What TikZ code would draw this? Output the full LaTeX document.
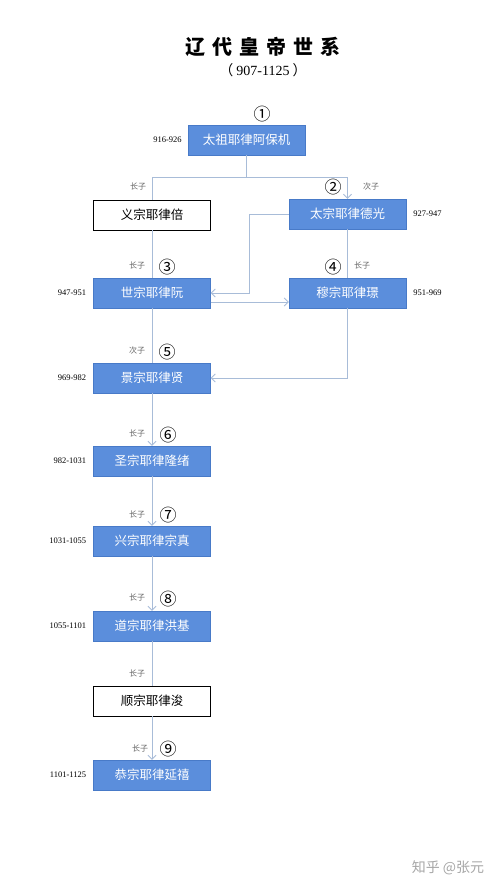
\documentclass[tikz,border=0pt]{standalone}
\usepackage{fontspec}
\setmainfont{Liberation Serif}
\newfontfamily\cjk{Noto Sans CJK SC}
\usetikzlibrary{arrows.meta,positioning}
\definecolor{kingblue}{RGB}{91,142,220}
\definecolor{kingedge}{RGB}{72,122,200}
\definecolor{linkgray}{RGB}{168,188,216}

\begin{document}
\begin{tikzpicture}[
  x=1pt, y=-1pt,
  ruler/.style={draw=kingedge, fill=kingblue, text=white, minimum width=117pt, minimum height=30pt,
    inner sep=0pt, font=\cjk\fontsize{12.5}{14}\selectfont},
  heir/.style={ruler, draw=black, fill=white, text=black, line width=0.9pt},
  reign/.style={inner sep=0pt, font=\fontsize{8.5}{10}\selectfont},
  son/.style={inner sep=0pt, text=black!60, font=\cjk\fontsize{8}{9}\selectfont},
  order/.style={inner sep=0pt, font=\cjk\fontsize{17}{18}\selectfont},
  link/.style={draw=linkgray, line width=0.8pt},
  linkto/.style={link, -{Straight Barb[length=4pt,width=8pt]}}
]
\useasboundingbox (0,0) rectangle (500,889);

% title
\node[inner sep=0pt, font=\cjk\bfseries\fontsize{20}{22}\selectfont] (title) at (263,47)
  {辽\hspace{7pt}代\hspace{7pt}皇\hspace{7pt}帝\hspace{7pt}世\hspace{7pt}系};
\node[inner sep=0pt, font=\fontsize{14}{16}\selectfont] (years) at (263,70)
  {{\cjk （}\hspace{3pt}907-1125\hspace{3pt}{\cjk ）}};

% emperors
\node[ruler] (taizu) at (246.5,140) {太祖耶律阿保机};
\node[heir] (yizong) at (152,215) {义宗耶律倍};
\node[ruler] (taizong) at (347.5,214) {太宗耶律德光};
\node[ruler] (shizong) at (152,293) {世宗耶律阮};
\node[ruler] (muzong) at (347.5,293) {穆宗耶律璟};
\node[ruler] (jingzong) at (152,378) {景宗耶律贤};
\node[ruler] (shengzong) at (152,461) {圣宗耶律隆绪};
\node[ruler] (xingzong) at (152,541) {兴宗耶律宗真};
\node[ruler] (daozong) at (152,626) {道宗耶律洪基};
\node[heir] (shunzong) at (152,701) {顺宗耶律浚};
\node[ruler] (gongzong) at (152,775) {恭宗耶律延禧};

% reigns
\node[reign, left=6pt of taizu] {916-926};
\node[reign, right=7pt of taizong] {927-947};
\node[reign, left=7pt of shizong] {947-951};
\node[reign, right=7pt of muzong] {951-969};
\node[reign, left=7pt of jingzong] {969-982};
\node[reign, left=7pt of shengzong] {982-1031};
\node[reign, left=7pt of xingzong] {1031-1055};
\node[reign, left=7pt of daozong] {1055-1101};
\node[reign, left=7pt of gongzong] {1101-1125};

% order of succession
\node[order] (n1) at (262,114) {①};
\node[order] (n2) at (333,187) {②};
\node[order] (n3) at (167,267) {③};
\node[order] (n4) at (333,267) {④};
\node[order] (n5) at (167,352) {⑤};
\node[order] (n6) at (168,435) {⑥};
\node[order] (n7) at (168,515) {⑦};
\node[order] (n8) at (168,599) {⑧};
\node[order] (n9) at (168,749) {⑨};

% sons
\node[son] at (138,186) {长子};
\node[son] at (371,186) {次子};
\node[son] at (137,265) {长子};
\node[son] at (362,265) {长子};
\node[son] at (137,350) {次子};
\node[son] at (137,433) {长子};
\node[son] at (137,514) {长子};
\node[son] at (137,597) {长子};
\node[son] at (137,673) {长子};
\node[son] at (140,748) {长子};

% lines
\coordinate (split) at (246.5,177);
\draw[link] (taizu.south) -- (split) -| (yizong.north);
\draw[linkto] (split) -| (taizong.north);
\draw[link] (yizong) -- (shizong);
\draw[link] (taizong) -- (muzong);
\draw[linkto] (taizong.west) -- ++(-39,0) |- (shizong.east);
\draw[linkto] ([yshift=-9pt]shizong.east) -- ([yshift=-9pt]muzong.west);
\draw[link] (shizong) -- (jingzong);
\draw[linkto] (muzong.south) |- (jingzong.east);
\draw[linkto] (jingzong) -- (shengzong);
\draw[linkto] (shengzong) -- (xingzong);
\draw[linkto] (xingzong) -- (daozong);
\draw[link] (daozong) -- (shunzong);
\draw[linkto] (shunzong) -- (gongzong);

\node[inner sep=0pt, text=black!35, font=\cjk\fontsize{14}{16}\selectfont] (mark) at (448,868) {知乎 @张元};
\end{tikzpicture}
\end{document}
